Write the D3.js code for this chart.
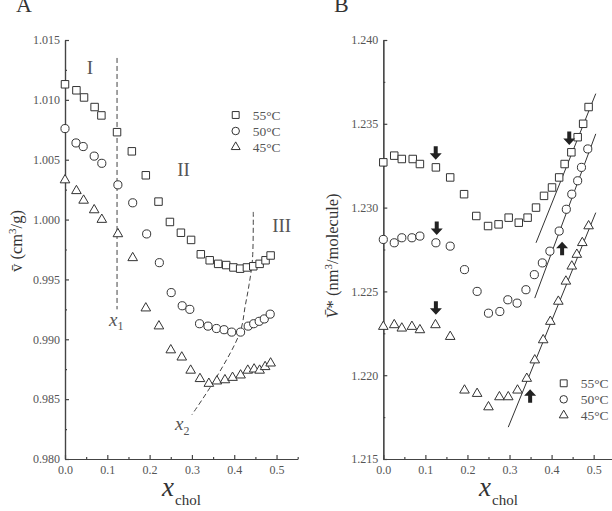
<!DOCTYPE html>
<html>
<head>
<meta charset="utf-8">
<script src="https://cdn.jsdelivr.net/npm/d3@7"></script>
<style>
  body { margin: 0; background: #fff; }
  svg { display: block; font-family: "Liberation Serif", "Times New Roman", serif; }
</style>
</head>
<body>
<div id="chart"></div>
<script>
// ---- panel A : partial specific volume ----
var a55x = [0, 0.027, 0.045, 0.07, 0.086, 0.123, 0.158, 0.191, 0.221, 0.248, 0.274, 0.298, 0.321, 0.342, 0.362, 0.381, 0.398, 0.414, 0.430, 0.445, 0.460, 0.474, 0.486];
var a55y = [1.0113, 1.0108, 1.0102, 1.0094, 1.0087, 1.0073, 1.0057, 1.0037, 1.0015, 0.9998, 0.9989, 0.9983, 0.9971, 0.9966, 0.9963, 0.9962, 0.9960, 0.9959, 0.9960, 0.9961, 0.9963, 0.9966, 0.9970];
var a50x = [0, 0.026, 0.043, 0.069, 0.087, 0.125, 0.160, 0.193, 0.223, 0.251, 0.277, 0.295, 0.318, 0.338, 0.358, 0.376, 0.394, 0.415, 0.433, 0.446, 0.459, 0.471, 0.485];
var a50y = [1.0076, 1.0064, 1.0061, 1.0053, 1.0047, 1.0029, 1.0014, 0.9988, 0.9964, 0.9939, 0.9928, 0.9925, 0.9913, 0.9911, 0.9909, 0.9908, 0.9906, 0.9906, 0.9911, 0.9913, 0.9915, 0.9917, 0.9921];
var a45x = [0, 0.027, 0.044, 0.069, 0.087, 0.125, 0.160, 0.191, 0.222, 0.250, 0.276, 0.297, 0.319, 0.340, 0.359, 0.378, 0.396, 0.415, 0.432, 0.447, 0.460, 0.473, 0.486];
var a45y = [1.0033, 1.0024, 1.0016, 1.0008, 1.0000, 0.9988, 0.9968, 0.9926, 0.9911, 0.9891, 0.9885, 0.9874, 0.9867, 0.9863, 0.9865, 0.9866, 0.9868, 0.9870, 0.9874, 0.9875, 0.9874, 0.9877, 0.9880];
var aYTicks = [0.980, 0.985, 0.990, 0.995, 1.000, 1.005, 1.010, 1.015];
// dashed boundaries x1 and x2
var x1Line = [[0.123, 1.0135], [0.123, 0.9925]];
var x2Line = [[0.445, 1.00064], [0.443, 0.99664], [0.435, 0.99455], [0.426, 0.99280], [0.414, 0.99063], [0.359, 0.98689], [0.300, 0.98370]];
var regionLabels = [["I", 0.059, 1.0122], ["II", 0.280, 1.0036], ["III", 0.512, 0.9990]];

// ---- panel B : molecular volume ----
var b55x = [0, 0.026, 0.044, 0.070, 0.087, 0.125, 0.159, 0.192, 0.221, 0.249, 0.274, 0.298, 0.322, 0.343, 0.363, 0.382, 0.401, 0.418, 0.431, 0.447, 0.462, 0.475, 0.488];
var b55y = [1.2327, 1.2331, 1.2329, 1.2329, 1.2326, 1.2324, 1.2318, 1.2308, 1.2295, 1.2289, 1.2290, 1.2294, 1.2291, 1.2294, 1.2300, 1.2307, 1.2312, 1.2318, 1.2326, 1.2333, 1.2342, 1.2350, 1.2360];
var b50x = [0, 0.026, 0.044, 0.068, 0.087, 0.125, 0.159, 0.193, 0.223, 0.250, 0.277, 0.296, 0.318, 0.339, 0.359, 0.378, 0.396, 0.418, 0.435, 0.448, 0.462, 0.471, 0.486];
var b50y = [1.2281, 1.2279, 1.2282, 1.2282, 1.2283, 1.2279, 1.2277, 1.2263, 1.2250, 1.2237, 1.2238, 1.2245, 1.2243, 1.2251, 1.2260, 1.2267, 1.2274, 1.2286, 1.2299, 1.2308, 1.2316, 1.2324, 1.2335];
var b45x = [0, 0.026, 0.044, 0.068, 0.087, 0.124, 0.159, 0.193, 0.223, 0.250, 0.276, 0.297, 0.319, 0.341, 0.360, 0.380, 0.397, 0.416, 0.434, 0.448, 0.460, 0.473, 0.488];
var b45y = [1.2229, 1.2230, 1.2228, 1.2229, 1.2227, 1.2230, 1.2223, 1.2191, 1.2189, 1.2181, 1.2187, 1.2187, 1.2191, 1.2198, 1.2209, 1.2221, 1.2232, 1.2244, 1.2256, 1.2265, 1.2272, 1.2279, 1.2289];
var bYTicks = [1.215, 1.220, 1.225, 1.230, 1.235, 1.240];
var fitLines = [[[0.363, 1.2279], [0.505, 1.2368]], [[0.360, 1.2246], [0.505, 1.2344]], [[0.297, 1.2169], [0.505, 1.2297]]];
// arrows: x, y, direction (1 = down, -1 = up)
var arrowX = [0.1246, 0.127, 0.125, 0.442, 0.425, 0.349];
var arrowY = [1.23324, 1.22876, 1.22399, 1.23413, 1.22757, 1.21878];
var arrowDir = [1, 1, 1, 1, -1, -1];

var xTicks = [0, 0.1, 0.2, 0.3, 0.4, 0.5];
var xMinor = [0.05, 0.15, 0.25, 0.35, 0.45, 0.55];
var legendLabels = ["55\u00b0C", "50\u00b0C", "45\u00b0C"];
var symbols = [d3.symbolSquare, d3.symbolCircle, d3.symbolTriangle];
var symSizes = [56, 52, 40];

var W = 612, H = 511;
var svg = d3.select("#chart").append("svg").attr("width", W).attr("height", H);
var axisColor = "#444", textColor = "#555", markColor = "#333";

function zip(xs, ys) { return xs.map(function (x, i) { return [x, ys[i]]; }); }

function drawAxes(g, x, y, yTicks, yFmt) {
    var yMinor = [];
    for (var i = 0; i < yTicks.length - 1; i++) yMinor.push((yTicks[i] + yTicks[i + 1]) / 2);
    g.append("g").attr("transform", "translate(0," + y.range()[0] + ")")
        .call(d3.axisBottom(x).tickValues(xTicks).tickFormat(d3.format(".1f")).tickSize(-4).tickSizeOuter(0).tickPadding(6));
    g.append("g").attr("transform", "translate(0," + y.range()[0] + ")")
        .call(d3.axisBottom(x).tickValues(xMinor).tickFormat("").tickSize(-2).tickSizeOuter(0));
    g.append("g").attr("transform", "translate(" + x.range()[0] + ",0)")
        .call(d3.axisLeft(y).tickValues(yTicks).tickFormat(yFmt).tickSize(-4).tickSizeOuter(0).tickPadding(5));
    g.append("g").attr("transform", "translate(" + x.range()[0] + ",0)")
        .call(d3.axisLeft(y).tickValues(yMinor).tickFormat("").tickSize(-2).tickSizeOuter(0));
    g.selectAll(".domain, .tick line").attr("stroke", axisColor).attr("stroke-width", 1.2);
    g.selectAll(".tick text").attr("fill", textColor)
        .style("font-family", "Liberation Serif, serif").style("font-size", "12px");
}

function drawSeries(g, x, y, series) {
    series.forEach(function (pts, k) {
        g.append("g").selectAll("path").data(pts).enter().append("path")
            .attr("d", d3.symbol().type(symbols[k]).size(symSizes[k]))
            .attr("transform", function (d) { return "translate(" + x(d[0]) + "," + y(d[1]) + ")"; })
            .attr("fill", "#fff").attr("stroke", markColor).attr("stroke-width", 1);
    });
}

function drawLegend(g, lx, ly) {
    legendLabels.forEach(function (lab, k) {
        g.append("path").attr("d", d3.symbol().type(symbols[k]).size(symSizes[k] * 0.85)())
            .attr("transform", "translate(" + lx + "," + (ly + k * 16) + ")")
            .attr("fill", "#fff").attr("stroke", markColor);
        g.append("text").attr("x", lx + 17).attr("y", ly + k * 16 + 4.5)
            .attr("fill", textColor).style("font-size", "13.5px").text(lab);
    });
}

function xTitle(g, cx) {
    var t = g.append("text").attr("x", cx - 18).attr("y", 496).attr("fill", "#333");
    t.append("tspan").style("font-style", "italic").style("font-size", "27px").text("x");
    t.append("tspan").attr("dy", 9).attr("dx", 1).style("font-size", "15px").text("chol");
}

// ===== panel A =====
var xA = d3.scaleLinear().domain([0, 0.55]).range([65, 297.7]);
var yA = d3.scaleLinear().domain([0.980, 1.015]).range([459, 40]);
var gA = svg.append("g");
drawAxes(gA, xA, yA, aYTicks, d3.format(".3f"));

var lineA = d3.line().x(function (d) { return xA(d[0]); }).y(function (d) { return yA(d[1]); });
gA.append("path").attr("d", lineA(x1Line)).attr("fill", "none")
    .attr("stroke", "#444").attr("stroke-dasharray", "5,3");
gA.append("path").attr("d", lineA.curve(d3.curveCatmullRom)(x2Line)).attr("fill", "none")
    .attr("stroke", "#444").attr("stroke-dasharray", "5,3");

drawSeries(gA, xA, yA, [zip(a55x, a55y), zip(a50x, a50y), zip(a45x, a45y)]);

regionLabels.forEach(function (r) {
    gA.append("text").attr("x", xA(r[1])).attr("y", yA(r[2])).attr("text-anchor", "middle")
        .attr("fill", textColor).style("font-size", "19px").text(r[0]);
});

var t1 = gA.append("text").attr("x", 109).attr("y", 326).attr("fill", textColor);
t1.append("tspan").style("font-style", "italic").style("font-size", "19px").text("x");
t1.append("tspan").attr("dy", 4).style("font-size", "12px").text("1");
var t2 = gA.append("text").attr("x", 175).attr("y", 430).attr("fill", textColor);
t2.append("tspan").style("font-style", "italic").style("font-size", "19px").text("x");
t2.append("tspan").attr("dy", 5).style("font-size", "12px").text("2");

drawLegend(gA, 235.7, 115);
xTitle(gA, 180);

var yl = gA.append("text").attr("transform", "translate(22,241) rotate(-90)")
    .attr("text-anchor", "middle").attr("fill", "#333").style("font-size", "16.5px");
yl.append("tspan").text("v\u0304 (cm");
yl.append("tspan").attr("dy", -6).style("font-size", "11px").text("3");
yl.append("tspan").attr("dy", 6).text("/g)");

gA.append("text").attr("x", 16).attr("y", 12).attr("fill", "#333").style("font-size", "22px").text("A");

// ===== panel B =====
var xB = d3.scaleLinear().domain([0, 0.55]).range([383.3, 614.7]);
var yB = d3.scaleLinear().domain([1.215, 1.240]).range([459, 40]);
var gB = svg.append("g");
drawAxes(gB, xB, yB, bYTicks, d3.format(".3f"));

var lineB = d3.line().x(function (d) { return xB(d[0]); }).y(function (d) { return yB(d[1]); });
fitLines.forEach(function (l) {
    gB.append("path").attr("d", lineB(l)).attr("fill", "none").attr("stroke", "#333").attr("stroke-width", 1);
});

drawSeries(gB, xB, yB, [zip(b55x, b55y), zip(b50x, b50y), zip(b45x, b45y)]);

// thick arrows
var arrowShape = "M-2,-7 L2,-7 L2,0 L6,0 L0,6.5 L-6,0 L-2,0 Z";
arrowX.forEach(function (ax, i) {
    gB.append("path").attr("d", arrowShape)
        .attr("transform", "translate(" + xB(ax) + "," + yB(arrowY[i]) + ") scale(1," + arrowDir[i] + ")")
        .attr("fill", "#222");
});

drawLegend(gB, 563.7, 383.3);
xTitle(gB, 497);

var yl2 = gB.append("text").attr("transform", "translate(338,256) rotate(-90)")
    .attr("text-anchor", "middle").attr("fill", "#333").style("font-size", "16.5px");
yl2.append("tspan").style("font-style", "italic").text("V\u0304");
yl2.append("tspan").text("* (nm");
yl2.append("tspan").attr("dy", -6).style("font-size", "11px").text("3");
yl2.append("tspan").attr("dy", 6).text("/molecule)");

gB.append("text").attr("x", 334).attr("y", 12).attr("fill", "#333").style("font-size", "22px").text("B");
</script>
</body>
</html>
